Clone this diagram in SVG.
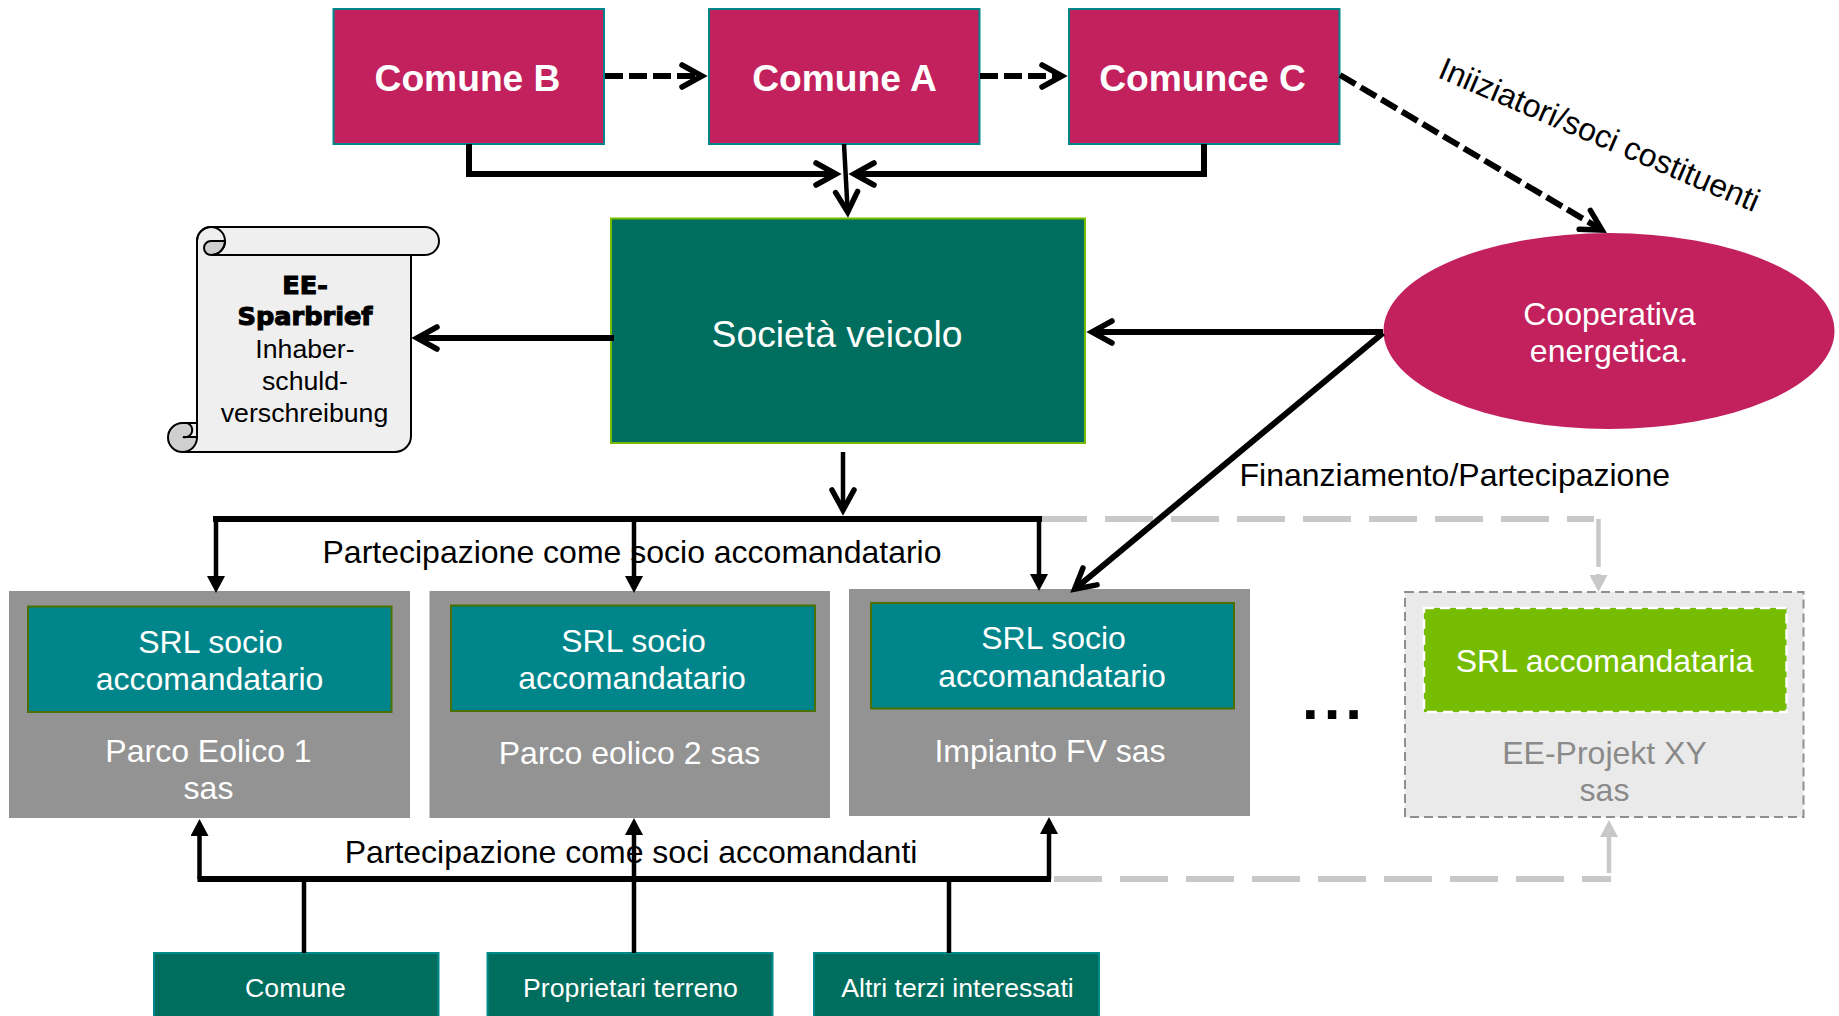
<svg xmlns="http://www.w3.org/2000/svg" width="1839" height="1016" viewBox="0 0 1839 1016">
<style>
text{font-family:"Liberation Sans",Arial,sans-serif;text-anchor:middle}
.w{fill:#fff}.b32{fill:#000;font-size:32px}.t32{font-size:32px}.t27{font-size:26.67px}
.head{font-size:37.2px;font-weight:bold;fill:#fff}
.mag{fill:#c2215e;stroke:#00868a;stroke-width:2}
.inner{fill:#00868a;stroke:#4b7000;stroke-width:2}
.park{fill:#939393}
.inv{fill:#006e5e;stroke:#008a8c;stroke-width:2}
.cb{fill:none;stroke:#000;stroke-width:6;stroke-linejoin:miter}
.thin{stroke-width:4.5}.dash{stroke-dasharray:18 6}
.open{marker-end:url(#open)}.tri{marker-end:url(#tri)}
.gray{fill:none;stroke:#c8c8c8;stroke-width:6;stroke-dasharray:48 18}
.gv{fill:none;stroke:#c8c8c8;stroke-width:4.5}
.gh{marker-end:url(#trig)}
.scr{stroke:#000;stroke-width:2}
.spar{font-family:"DejaVu Sans",sans-serif;font-weight:bold;font-size:25.6px;stroke:#000;stroke-width:1.1}
</style>
<defs>
<marker id="open" markerUnits="userSpaceOnUse" viewBox="0 0 34 34" markerWidth="34" markerHeight="34" refX="24" refY="17" orient="auto" overflow="visible"><path d="M4 6L24 17L4 28" fill="none" stroke="#000" stroke-width="5.5" stroke-linecap="round" stroke-miterlimit="10"/></marker>
<marker id="tri" markerUnits="userSpaceOnUse" viewBox="0 0 17 18" markerWidth="17" markerHeight="18" refX="0" refY="9" orient="auto"><path d="M0 0L17 9L0 18Z" fill="#000"/></marker>
<marker id="trig" markerUnits="userSpaceOnUse" viewBox="0 0 17 18" markerWidth="17" markerHeight="18" refX="0" refY="9" orient="auto"><path d="M0 0L17 9L0 18Z" fill="#c8c8c8"/></marker>
</defs>
<g id="comune-b"><rect class="mag" x="333.5" y="9" width="270.500" height="135"/><text class="head" x="467.5" y="91">Comune B</text></g>
<g id="comune-a"><rect class="mag" x="709" y="9" width="270.500" height="135"/><text class="head" x="844.5" y="91">Comune A</text></g>
<g id="comunce-c"><rect class="mag" x="1069" y="9" width="270.500" height="135"/><text class="head" x="1202.500" y="91">Comunce C</text></g>
<g id="societa"><rect x="611" y="218.500" width="474" height="224.500" fill="#006e5e" stroke="#76bc00" stroke-width="2"/><text class="w" style="font-size:37.3px" x="837" y="347">Società veicolo</text></g>
<g id="cooperativa"><ellipse cx="1609" cy="331" rx="225.500" ry="98" fill="#c2215e"/><text class="w t32" x="1609.500" y="325">Cooperativa</text><text class="w t32" x="1609" y="362">energetica.</text></g>
<g id="sparbrief">
<path class="scr" fill="#cfcfcf" d="M182.500 423A14.500 14.500 0 1 0 182.500 452H197V423Z"/>
<path class="scr" fill="#efefef" d="M197 423H187A7 7 0 0 1 183 437H197Z"/>
<path class="scr" fill="#efefef" d="M197 241A14 14 0 0 1 211 227H425A14 14 0 0 1 425 255H411V436A16 16 0 0 1 395 452H182.500A14.500 14.500 0 0 0 197 437Z"/>
<path class="scr" fill="#cfcfcf" d="M204 248A7 7 0 0 1 211 241H225A14 14 0 0 1 211 255A7 7 0 0 1 204 248Z"/>
<path class="scr" fill="none" d="M197 241A14 14 0 0 1 225 241A14 14 0 0 1 211 255H411"/>
<text class="spar" x="305" y="294">EE-</text>
<text class="spar" x="305" y="325">Sparbrief</text>
<text class="t27" x="305" y="358">Inhaber-</text><text class="t27" x="305" y="390">schuld-</text><text class="t27" x="304.500" y="422">verschreibung</text>
</g>
<g id="parco1"><rect class="park" x="9" y="591" width="401" height="227"/><rect class="inner" x="28" y="606.500" width="363.500" height="105.500"/><text class="w t32" x="210.500" y="653">SRL socio</text><text class="w t32" x="209.500" y="690">accomandatario</text><text class="w t32" x="208.500" y="762">Parco Eolico 1</text><text class="w t32" x="208.500" y="799">sas</text></g>
<g id="parco2"><rect class="park" x="429.500" y="591" width="400.500" height="227"/><rect class="inner" x="451" y="605.500" width="364" height="105.500"/><text class="w t32" x="633.500" y="652">SRL socio</text><text class="w t32" x="632" y="689">accomandatario</text><text class="w t32" x="629.500" y="764">Parco eolico 2 sas</text></g>
<g id="impianto"><rect class="park" x="849" y="589" width="401" height="227"/><rect class="inner" x="871" y="603" width="363" height="105.500"/><text class="w t32" x="1053.500" y="649">SRL socio</text><text class="w t32" x="1052" y="686.500">accomandatario</text><text class="w t32" x="1050" y="762">Impianto FV sas</text></g>
<g id="ee-projekt"><rect x="1405" y="592" width="398.500" height="225" fill="#eaeaea" stroke="#8f8f8f" stroke-width="2" stroke-dasharray="9 5"/><rect x="1424" y="608" width="362.500" height="104" fill="#76bc00" stroke="#fff" stroke-width="2.500" stroke-dasharray="10 6"/><text class="w t32" x="1604.500" y="672">SRL accomandataria</text><text class="t32" fill="#8a8a8a" x="1604.500" y="764">EE-Projekt XY</text><text class="t32" fill="#8a8a8a" x="1604.500" y="801">sas</text></g>
<g id="comune-inv"><rect class="inv" x="154" y="953" width="284.500" height="70"/><text class="w t27" x="295.500" y="997">Comune</text></g>
<g id="proprietari"><rect class="inv" x="487.500" y="953" width="285" height="70"/><text class="w t27" x="630.500" y="997">Proprietari terreno</text></g>
<g id="altri"><rect class="inv" x="814" y="953" width="285" height="70"/><text class="w t27" x="957.500" y="997">Altri terzi interessati</text></g>
<g id="labels">
<text class="b32" x="632" y="563">Partecipazione come socio accomandatario</text>
<text class="b32" x="631" y="863">Partecipazione come soci accomandanti</text>
<text class="b32" style="text-anchor:start" x="1239.500" y="486">Finanziamento/Partecipazione</text>
<text class="b32" style="text-anchor:start" transform="translate(1436.500 77) rotate(23.100)">Iniiziatori/soci costituenti</text>
<text style="text-anchor:start;font-weight:bold;font-size:60px;letter-spacing:5px" x="1302" y="719">...</text>
</g>
<g id="connectors">
<path class="gray" d="M1039 519H1594"/><path class="gv" d="M1598.500 519V567"/><path class="gv gh" d="M1598.500 574V575"/>
<path class="gray" d="M1054 879H1611"/><path class="gv gh" d="M1609 873V837"/>
<path class="cb dash open" d="M605 76H702"/>
<path class="cb dash open" d="M980 76H1062"/>
<path class="cb dash open" d="M1340 75L1602 230"/>
<path class="cb open" d="M469 144V174H836"/>
<path class="cb open" d="M1204 144V174H854"/>
<path class="cb thin open" d="M844 144L847.700 212"/>
<path class="cb open" d="M614 338H417"/>
<path class="cb open" d="M1383 332H1092"/>
<path class="cb open" d="M1383 333L1074.600 589.200"/>
<path class="cb thin open" d="M843 452V510"/>
<path class="cb" d="M213 519H1042"/>
<path class="cb thin tri" d="M216 519V576"/>
<path class="cb thin tri" d="M634 519V576"/>
<path class="cb thin tri" d="M1039 519V574"/>
<path class="cb" d="M197.500 879H1051"/>
<path class="cb thin tri" d="M199.500 879V836"/>
<path class="cb thin tri" d="M634 953V835"/>
<path class="cb thin tri" d="M1049 879V834"/>
<path class="cb thin" d="M304 879V953"/>
<path class="cb thin" d="M949 879V953"/>
</g>
</svg>
